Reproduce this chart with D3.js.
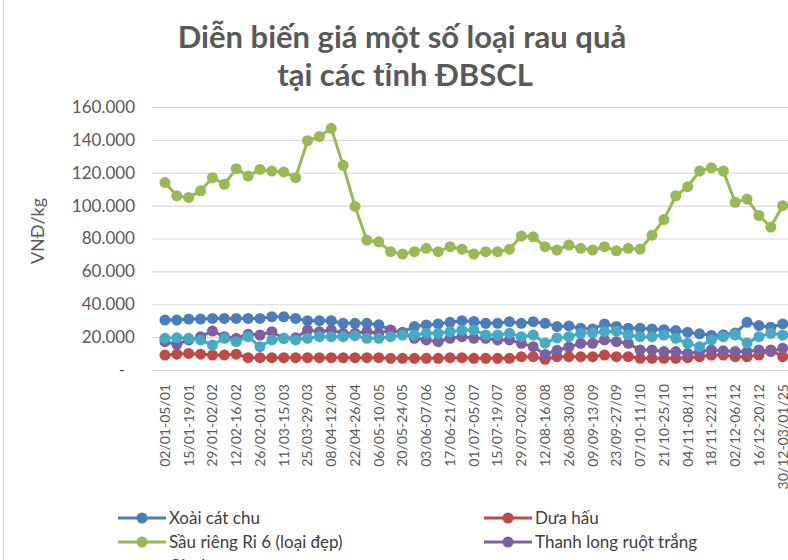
<!DOCTYPE html>
<html>
<head>
<meta charset="utf-8">
<script src="https://cdn.jsdelivr.net/npm/d3@7"></script>
<style>
  body { margin: 0; background: #fff; }
  svg { display: block; font-family: Lato, "Open Sans", sans-serif; }
</style>
</head>
<body>
<div id="chart"></div>
<script>
const weeks = [
  "02/01-05/01", "08/01-12/01", "15/01-19/01", "22/01-26/01", "29/01-02/02", "05/02-09/02",
  "12/02-16/02", "19/02-23/02", "26/02-01/03", "04/03-08/03", "11/03-15/03", "18/03-22/03",
  "25/03-29/03", "01/04-05/04", "08/04-12/04", "15/04-19/04", "22/04-26/04", "29/04-03/05",
  "06/05-10/05", "13/05-17/05", "20/05-24/05", "27/05-31/05", "03/06-07/06", "10/06-14/06",
  "17/06-21/06", "24/06-28/06", "01/07-05/07", "08/07-12/07", "15/07-19/07", "22/07-26/07",
  "29/07-02/08", "05/08-09/08", "12/08-16/08", "19/08-23/08", "26/08-30/08", "02/09-06/09",
  "09/09-13/09", "16/09-20/09", "23/09-27/09", "30/09-04/10", "07/10-11/10", "14/10-18/10",
  "21/10-25/10", "28/10-01/11", "04/11-08/11", "11/11-15/11", "18/11-22/11", "25/11-29/11",
  "02/12-06/12", "09/12-13/12", "16/12-20/12", "23/12-27/12", "30/12-03/01/25"
];

const xoai = [
  30400, 30400, 31000, 31000, 31400, 31400, 31400, 31400, 31400, 32400, 32400, 31400,
  30000, 30000, 30000, 28400, 28400, 28400, 27500, 24300, 23000, 26400, 27400, 28000,
  29000, 30000, 29500, 28400, 28400, 29400, 28400, 29400, 28400, 26400, 26800, 25400,
  25000, 28000, 26500, 25400, 25400, 25000, 24500, 24000, 23000, 22000, 21000, 21500,
  22500, 29000, 27000, 26000, 28000
];
const duaHau = [
  9100, 9600, 10100, 9600, 9100, 9100, 9600, 7500, 7500, 7500, 7500, 7500,
  7500, 7500, 7500, 7500, 7500, 7500, 7500, 7100, 7100, 7100, 7100, 7100,
  7500, 7500, 7100, 7100, 7100, 7100, 8100, 8100, 6500, 8100, 8100, 8100,
  8100, 9100, 8100, 8100, 7100, 7100, 7100, 7100, 7500, 8100, 9100, 9100,
  8100, 8100, 9100, 12200, 8100
];
const sauRieng = [
  114000, 106000, 105000, 109000, 117000, 113000, 122500, 118000, 122000, 121000, 120500, 117000,
  139500, 142000, 147000, 124500, 99500, 79000, 78000, 72000, 70500, 72000, 74000, 72000,
  75000, 73500, 70500, 72000, 72000, 73500, 81500, 81000, 75000, 73000, 76000, 74000,
  73000, 75000, 72500, 74000, 73500, 82000, 91500, 106000, 111500, 121000, 123000, 121000,
  102000, 104000, 94000, 87000, 100000
];
const thanhLong = [
  17200, 15600, 18300, 20300, 23700, 20300, 19300, 21700, 21300, 23300, 19300, 19600,
  24300, 23300, 24300, 22300, 22300, 23300, 22300, 24300, 22300, 19300, 18300, 17200,
  19300, 20300, 19300, 19300, 18300, 18300, 16200, 14200, 9500, 12000, 14000, 16200,
  16200, 18300, 17200, 16200, 12200, 12200, 11200, 11200, 10100, 11200, 12200, 11700,
  11200, 11200, 12200, 11200, 13200
];
const caChua = [
  19300, 19600, 19300, 18300, 15200, 19300, 17200, 20300, 14200, 18300, 19300, 18300,
  19300, 20300, 20300, 20300, 20900, 19300, 19300, 20300, 21300, 21300, 22300, 22300,
  23300, 24300, 24300, 21300, 21300, 22300, 20300, 21300, 16400, 19500, 20300, 22300,
  22600, 23300, 23600, 21300, 20300, 20300, 21300, 19300, 16200, 14200, 18300, 20300,
  21300, 16400, 20300, 22300, 21300
];

const series = [
  { name: "Xoài cát chu", values: xoai, color: "#4a7ebb" },
  { name: "Dưa hấu", values: duaHau, color: "#be4b48" },
  { name: "Sầu riêng Ri 6 (loại đẹp)", values: sauRieng, color: "#98b954" },
  { name: "Thanh long ruột trắng", values: thanhLong, color: "#7d60a0" },
  { name: "Cà chua", values: caChua, color: "#46aac5" }
];

const yTicks = [0, 20000, 40000, 60000, 80000, 100000, 120000, 140000, 160000];

const W = 788, H = 560;
const svg = d3.select("#chart").append("svg")
  .attr("width", W).attr("height", H);

// left frame edge
svg.append("line")
  .attr("x1", 3.5).attr("x2", 3.5).attr("y1", 0).attr("y2", H)
  .attr("stroke", "#d9d9d9");

// Title
svg.append("text")
  .attr("x", 402).attr("y", 48)
  .attr("text-anchor", "middle")
  .attr("font-size", "31px").attr("font-weight", "bold")
  .attr("fill", "#595959")
  .text("Diễn biến giá một số loại rau quả");
svg.append("text")
  .attr("x", 405).attr("y", 86)
  .attr("text-anchor", "middle")
  .attr("font-size", "31px").attr("font-weight", "bold")
  .attr("fill", "#595959")
  .text("tại các tỉnh ĐBSCL");

const x = d3.scaleBand().domain(weeks).range([159, 159 + weeks.length * 11.88]);
const y = d3.scaleLinear().domain([0, 160000]).range([370, 107]);
const cx = (d) => x(d) + x.bandwidth() / 2;

// Gridlines
svg.append("g")
  .attr("transform", "translate(152,0)")
  .call(d3.axisLeft(y).tickValues(yTicks).tickSize(-(W - 152)).tickFormat(""))
  .call((g) => g.select(".domain").remove())
  .selectAll("line")
  .attr("stroke", "#d9d9d9").attr("stroke-width", 1.2);

// Y axis labels
svg.append("g")
  .attr("transform", "translate(145,0)")
  .call(d3.axisLeft(y).tickValues(yTicks).tickSize(0)
    .tickFormat((d) => d === 0 ? "-" : d3.format(",")(d).replace(/,/g, ".")))
  .call((g) => g.select(".domain").remove())
  .selectAll("text")
  .attr("fill", "#595959").attr("font-size", "17px")
  .attr("font-family", "Lato, sans-serif")
  .attr("x", (d) => d === 0 ? -20 : -10);

// Y axis title
svg.append("text")
  .attr("transform", "translate(44,231) rotate(-90)")
  .attr("text-anchor", "middle")
  .attr("font-size", "18px").attr("fill", "#595959")
  .text("VNĐ/kg");

// X axis labels (every other week)
svg.append("g")
  .attr("transform", "translate(0,370)")
  .call(d3.axisBottom(x).tickValues(weeks.filter((d, i) => i % 2 === 0)).tickSize(0))
  .call((g) => g.select(".domain").remove())
  .selectAll("text")
  .attr("fill", "#595959").attr("font-size", "14px")
  .attr("font-family", "Lato, sans-serif")
  .attr("transform", "rotate(-90)")
  .attr("x", -14).attr("y", 0).attr("dy", "0.35em")
  .style("text-anchor", "end");

// Lines and markers
const line = d3.line()
  .x((d, i) => cx(weeks[i]))
  .y((d) => y(d));

series.forEach((s) => {
  svg.append("path")
    .datum(s.values)
    .attr("fill", "none")
    .attr("stroke", s.color)
    .attr("stroke-width", 3)
    .attr("stroke-linejoin", "round")
    .attr("d", line);
  svg.append("g").selectAll("circle")
    .data(s.values)
    .join("circle")
    .attr("cx", (d, i) => cx(weeks[i]))
    .attr("cy", (d) => y(d))
    .attr("r", 5.5)
    .attr("fill", s.color);
});

// Legend
const legendPos = [
  { x: 118, y: 518 }, { x: 484, y: 518 },
  { x: 118, y: 542 }, { x: 484, y: 542 },
  { x: 118, y: 566 }
];
series.forEach((s, i) => {
  const p = legendPos[i];
  const g = svg.append("g").attr("transform", `translate(${p.x},${p.y})`);
  g.append("line")
    .attr("x1", 0).attr("x2", 48).attr("y1", 0).attr("y2", 0)
    .attr("stroke", s.color).attr("stroke-width", 3);
  g.append("circle").attr("cx", 24).attr("cy", 0).attr("r", 5.5).attr("fill", s.color);
  g.append("text")
    .attr("x", 51).attr("y", 0).attr("dy", "0.35em")
    .attr("font-size", "17px").attr("fill", "#404040")
    .text(s.name);
});
</script>
</body>
</html>
